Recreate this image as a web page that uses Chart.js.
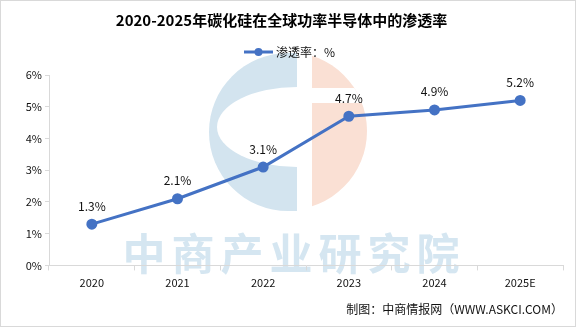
<!DOCTYPE html>
<html>
<head>
<meta charset="utf-8">
<script src="https://cdn.jsdelivr.net/npm/chart.js@4"></script>
<style>
    html, body { margin: 0; padding: 0; background: #fff; }
    #wrap { width: 576px; height: 327px; }
</style>
</head>
<body>
<div id="wrap"><canvas id="myChart"></canvas></div>
<script>
const years = ["2020", "2021", "2022", "2023", "2024", "2025E"];
const penetration = [1.3, 2.1, 3.1, 4.7, 4.9, 5.2];
const yTicks = [0, 1, 2, 3, 4, 5, 6];

const titleText = "2020-2025年碳化硅在全球功率半导体中的渗透率";
const seriesName = "渗透率：%";
const sourceText = "制图：中商情报网（WWW.ASKCI.COM）";
const watermarkText = "中商产业研究院";

const lineColor = "#4472c4";
const fontCN = "'Noto Sans CJK SC', 'Noto Sans', sans-serif";

// background logo + text watermark, and the thin frame
const watermark = {
    id: "watermark",
    beforeDraw(chart) {
        const ctx = chart.ctx;
        ctx.save();
        ctx.fillStyle = "#fff";
        ctx.fillRect(0, 0, chart.width, chart.height);

        const cx = 288, cy = 132, r = 79;
        // blue left part with a C cutout
        ctx.save();
        ctx.beginPath();
        ctx.arc(cx, cy, r, Math.PI / 2, Math.PI * 1.5);
        ctx.lineTo(400, cy - r);
        ctx.lineTo(400, cy + r);
        ctx.closePath();
        ctx.clip();
        ctx.fillStyle = "#d3e4ef";
        ctx.fillRect(cx - r, cy - r, 297 - (cx - r), 2 * r);
        ctx.restore();
        ctx.fillStyle = "#fff";
        ctx.beginPath();
        ctx.ellipse(297, 127, 80, 40, 0, Math.PI / 2, Math.PI * 1.5);
        ctx.closePath();
        ctx.fill();

        // peach right part
        ctx.save();
        ctx.beginPath();
        ctx.arc(cx, cy - 1, r, -Math.PI / 2, Math.PI / 2);
        ctx.closePath();
        ctx.clip();
        ctx.fillStyle = "#fae0d4";
        ctx.fillRect(312, cy - r - 2, 80, 2 * r + 4);
        ctx.fillStyle = "#fff";
        ctx.fillRect(312, 88, 80, 15);
        ctx.restore();

        // text
        ctx.fillStyle = "#d5e6f1";
        ctx.font = "bold 43px " + fontCN;
        ctx.textAlign = "center";
        ctx.textBaseline = "middle";
        Array.from(watermarkText).forEach((ch, i) => {
            ctx.fillText(ch, 144 + i * 49, 254);
        });
        ctx.restore();
    },
    afterDraw(chart) {
        const ctx = chart.ctx;
        ctx.save();
        // legend: line with dot, then the series name
        ctx.strokeStyle = lineColor;
        ctx.lineWidth = 3;
        ctx.beginPath();
        ctx.moveTo(244, 52);
        ctx.lineTo(273, 52);
        ctx.stroke();
        ctx.fillStyle = lineColor;
        ctx.beginPath();
        ctx.arc(258.5, 52, 4, 0, Math.PI * 2);
        ctx.fill();
        ctx.fillStyle = "#111";
        ctx.font = "12px " + fontCN;
        ctx.textAlign = "left";
        ctx.textBaseline = "middle";
        ctx.fillText(seriesName, 276, 52);

        ctx.strokeStyle = "#d9d9d9";
        ctx.lineWidth = 1;
        ctx.strokeRect(0.5, 0.5, chart.width - 1, chart.height - 1);
        ctx.restore();
    },
};

// value labels above each point
const pointLabels = {
    id: "pointLabels",
    afterDatasetsDraw(chart) {
        const ctx = chart.ctx;
        const meta = chart.getDatasetMeta(0);
        ctx.save();
        ctx.fillStyle = "#111";
        ctx.font = "12px " + fontCN;
        ctx.textAlign = "center";
        ctx.textBaseline = "middle";
        meta.data.forEach((pt, i) => {
            ctx.fillText(penetration[i].toFixed(1) + "%", pt.x, pt.y - 18);
        });
        ctx.restore();
    },
};

const data = {
    labels: years,
    datasets: [
        {
            label: seriesName,
            data: penetration,
            borderColor: lineColor,
            backgroundColor: lineColor,
            borderWidth: 3,
            pointRadius: 4,
            pointHoverRadius: 4,
            tension: 0,
        },
    ],
};

const config = {
    type: "line",
    data,
    plugins: [watermark, pointLabels],
    options: {
        responsive: true,
        maintainAspectRatio: false,
        animation: false,
        events: [],
        layout: {
            padding: { left: 0, right: 13, top: 9, bottom: 4 },
        },
        plugins: {
            title: {
                display: true,
                text: titleText,
                color: "#000",
                font: { family: fontCN, size: 15, weight: "bold" },
                padding: { top: 2, bottom: 46 },
            },
            legend: { display: false },
            subtitle: {
                display: true,
                position: "bottom",
                align: "end",
                text: sourceText,
                color: "#111",
                font: { family: fontCN, size: 12 },
                padding: { top: 7, bottom: 6 },
            },
            tooltip: { enabled: false },
        },
        scales: {
            x: {
                offset: true,
                grid: {
                    offset: true,
                    drawOnChartArea: false,
                    color: "#d9d9d9",
                    tickLength: 5,
                },
                border: { color: "#d9d9d9" },
                ticks: {
                    color: "#111",
                    font: { family: fontCN, size: 11 },
                    padding: 6,
                },
            },
            y: {
                min: 0,
                max: 6,
                afterBuildTicks: (scale) => {
                    scale.ticks = yTicks.map((v) => ({ value: v }));
                },
                afterFit: (scale) => {
                    scale.width = 49;
                },
                grid: {
                    drawOnChartArea: false,
                    color: "#d9d9d9",
                    tickLength: 4,
                },
                border: { color: "#d9d9d9" },
                ticks: {
                    color: "#111",
                    font: { family: fontCN, size: 11 },
                    padding: 3,
                    callback: (v) => v + "%",
                },
            },
        },
    },
};

new Chart(document.getElementById("myChart"), config);
</script>
</body>
</html>
